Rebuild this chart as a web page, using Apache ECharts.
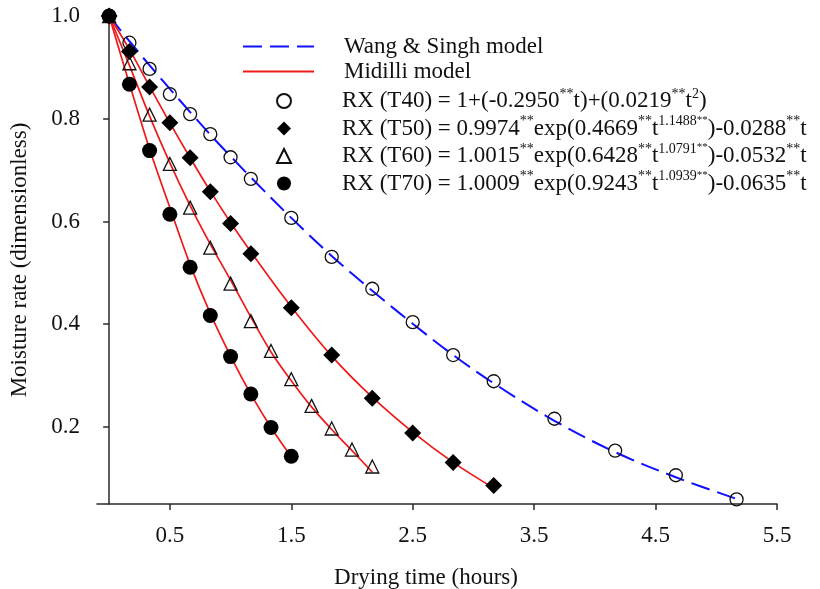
<!DOCTYPE html>
<html>
<head>
<meta charset="utf-8">
<script src="https://cdn.jsdelivr.net/npm/echarts@6/dist/echarts.min.js"></script>
<style>
html,body{margin:0;padding:0;background:#fff;}
#chart{width:820px;height:589px;}
</style>
</head>
<body>
<div id="chart"></div>
<script>
// ---- data ----
const times40 = [0, 0.167, 0.333, 0.5, 0.667, 0.833, 1.0, 1.167, 1.5, 1.833, 2.167, 2.5, 2.833, 3.167, 3.667, 4.167, 4.667, 5.167];
const mr40    = [1.0, 0.948, 0.897, 0.848, 0.809, 0.770, 0.725, 0.683, 0.607, 0.531, 0.469, 0.404, 0.340, 0.289, 0.216, 0.154, 0.106, 0.059];

const times50 = [0, 0.167, 0.333, 0.5, 0.667, 0.833, 1.0, 1.167, 1.5, 1.833, 2.167, 2.5, 2.833, 3.167];
const mr50    = [1.0, 0.931, 0.862, 0.792, 0.724, 0.658, 0.596, 0.537, 0.432, 0.340, 0.256, 0.188, 0.131, 0.086];

const times60 = [0, 0.167, 0.333, 0.5, 0.667, 0.833, 1.0, 1.167, 1.333, 1.5, 1.667, 1.833, 2.0, 2.167];
const mr60    = [1.0, 0.908, 0.808, 0.712, 0.627, 0.549, 0.479, 0.406, 0.348, 0.293, 0.241, 0.197, 0.156, 0.123];

const times70 = [0, 0.167, 0.333, 0.5, 0.667, 0.833, 1.0, 1.167, 1.333, 1.5];
const mr70    = [1.0, 0.867, 0.738, 0.614, 0.511, 0.417, 0.337, 0.264, 0.199, 0.143];

// model curves
const fit40 = [1.0, 0.951, 0.904, 0.858, 0.813, 0.769, 0.727, 0.686, 0.607, 0.533, 0.465, 0.401, 0.340, 0.285, 0.212, 0.151, 0.102, 0.060];
const fit50 = [1.0, 0.935, 0.863, 0.792, 0.724, 0.659, 0.598, 0.541, 0.434, 0.338, 0.258, 0.190, 0.131, 0.081];
const fit60 = [1.0, 0.904, 0.805, 0.714, 0.631, 0.556, 0.486, 0.414, 0.346, 0.290, 0.239, 0.195, 0.154, 0.112];
const fit70 = [1.0, 0.868, 0.741, 0.627, 0.516, 0.421, 0.338, 0.264, 0.199, 0.142];

const xTicks = [0.5, 1.5, 2.5, 3.5, 4.5, 5.5];
const yTicks = [0.2, 0.4, 0.6, 0.8, 1.0];

const lineNames = ['Wang & Singh model', 'Midilli model'];
const pointNames = ['RX (T40)', 'RX (T50)', 'RX (T60)', 'RX (T70)'];

function pairs(xs, ys) { return xs.map((x, i) => [x, ys[i]]); }

const FONT = "'Liberation Serif', 'Times New Roman', serif";
const FS = 23;
const INK = '#111';
const AXIS = '#2a2a2a';
const BLUE = '#1010ff';
const RED = '#ee1a1a';

const legendRich = {
  sp: { width: 25, fontSize: FS, fontFamily: FONT },
  sp2: { width: 46, fontSize: FS, fontFamily: FONT },
  t: { fontSize: FS, fontFamily: FONT, color: INK, lineHeight: 28 },
  s: { fontSize: 14, fontFamily: FONT, color: INK, lineHeight: 16, verticalAlign: 'top' },
  ss: { fontSize: 11, fontFamily: FONT, color: INK, lineHeight: 10, verticalAlign: 'top' }
};

const formulas = {
  'RX (T40)': '{sp2| }{t|RX (T40) = 1+(-0.2950}{s|**}{t|t)+(0.0219}{s|**}{t|t}{s|2}{t|)}',
  'RX (T50)': '{sp2| }{t|RX (T50) = 0.9974}{s|**}{t|exp(0.4669}{s|**}{t|t}{s|1.1488}{ss|**}{t|)-0.0288}{s|**}{t|t}',
  'RX (T60)': '{sp2| }{t|RX (T60) = 1.0015}{s|**}{t|exp(0.6428}{s|**}{t|t}{s|1.0791}{ss|**}{t|)-0.0532}{s|**}{t|t}',
  'RX (T70)': '{sp2| }{t|RX (T70) = 1.0009}{s|**}{t|exp(0.9243}{s|**}{t|t}{s|1.0939}{ss|**}{t|)-0.0635}{s|**}{t|t}'
};

const chart = echarts.init(document.getElementById('chart'), null, { renderer: 'canvas' });

const lineCommon = { type: 'line', smooth: 0.35, symbol: 'none', z: 2 };

const option = {
  animation: false,
  backgroundColor: '#fff',
  grid: { left: 97, right: 43, top: 16, bottom: 85, containLabel: false, outerBoundsMode: 'none' },
  legend: [
    {
      data: lineNames,
      orient: 'vertical',
      left: 242,
      top: 35,
      padding: 0,
      itemWidth: 71,
      itemHeight: 14,
      itemGap: 2,
      selectedMode: false,
      itemStyle: { opacity: 0 },
      formatter: n => '{sp| }{t|' + n + '}',
      textStyle: { rich: Object.assign({}, legendRich, { t: Object.assign({}, legendRich.t, { lineHeight: 24 }) }) }
    },
    {
      data: [
        { name: 'RX (T40)' },
        { name: 'RX (T50)', icon: 'path://M5,0L10,5L5,10L0,5Z' },
        { name: 'RX (T60)' },
        { name: 'RX (T70)' }
      ],
      orient: 'vertical',
      left: 276,
      top: 87,
      padding: 0,
      itemWidth: 14,
      itemHeight: 14,
      itemGap: 2,
      selectedMode: false,
      formatter: n => formulas[n],
      textStyle: { rich: legendRich }
    }
  ],
  xAxis: {
    type: 'value',
    min: -0.1,
    max: 5.5,
    name: 'Drying time (hours)',
    nameLocation: 'middle',
    nameGap: 62,
    nameTextStyle: { fontFamily: FONT, fontSize: FS, color: INK, padding: [0, 22, 0, 0] },
    axisLine: { show: true, lineStyle: { color: AXIS, width: 1.5 } },
    axisTick: { show: true, inside: false, length: 6, customValues: xTicks, lineStyle: { color: AXIS, width: 1.5 } },
    axisLabel: { customValues: xTicks, margin: 20, fontFamily: FONT, fontSize: FS, color: INK, formatter: v => v.toFixed(1) },
    splitLine: { show: false }
  },
  yAxis: {
    type: 'value',
    min: 0.05,
    max: 1.0,
    name: 'Moisture rate (dimensionless)',
    nameLocation: 'middle',
    nameGap: 66,
    nameTextStyle: { fontFamily: FONT, fontSize: FS, color: INK },
    axisLine: { show: true, lineStyle: { color: AXIS, width: 1.5 } },
    axisTick: { show: true, inside: false, length: 6, customValues: yTicks, lineStyle: { color: AXIS, width: 1.5 } },
    axisLabel: { customValues: yTicks, margin: 17, fontFamily: FONT, fontSize: FS, color: INK, formatter: v => v.toFixed(1) },
    splitLine: { show: false }
  },
  series: [
    Object.assign({}, lineCommon, {
      name: 'Wang & Singh model', data: pairs(times40, fit40),
      lineStyle: { color: BLUE, width: 2, type: [19, 8] }, itemStyle: { color: BLUE, opacity: 0 }
    }),
    Object.assign({}, lineCommon, {
      name: 'Midilli model', data: pairs(times50, fit50),
      lineStyle: { color: RED, width: 1.7 }, itemStyle: { color: RED, opacity: 0 }
    }),
    Object.assign({}, lineCommon, {
      name: 'Midilli model', data: pairs(times60, fit60),
      lineStyle: { color: RED, width: 1.7 }, itemStyle: { color: RED, opacity: 0 }
    }),
    Object.assign({}, lineCommon, {
      name: 'Midilli model', data: pairs(times70, fit70),
      lineStyle: { color: RED, width: 1.7 }, itemStyle: { color: RED, opacity: 0 }
    }),
    {
      name: 'RX (T40)', type: 'scatter', data: pairs(times40, mr40), symbol: 'circle', symbolSize: 13, z: 3,
      itemStyle: { color: 'rgba(255,255,255,0)', borderColor: INK, borderWidth: 1.3, opacity: 1 }
    },
    {
      name: 'RX (T50)', type: 'scatter', data: pairs(times50, mr50), symbol: 'diamond', symbolSize: 17, z: 3,
      itemStyle: { color: '#000', opacity: 1 }
    },
    {
      name: 'RX (T60)', type: 'scatter', data: pairs(times60, mr60), symbol: 'triangle', symbolSize: 13, z: 3,
      itemStyle: { color: 'rgba(255,255,255,0)', borderColor: INK, borderWidth: 1.3, opacity: 1 }
    },
    {
      name: 'RX (T70)', type: 'scatter', data: pairs(times70, mr70), symbol: 'circle', symbolSize: 15, z: 3,
      itemStyle: { color: '#000', opacity: 1 }
    }
  ]
};

chart.setOption(option);
</script>
</body>
</html>
